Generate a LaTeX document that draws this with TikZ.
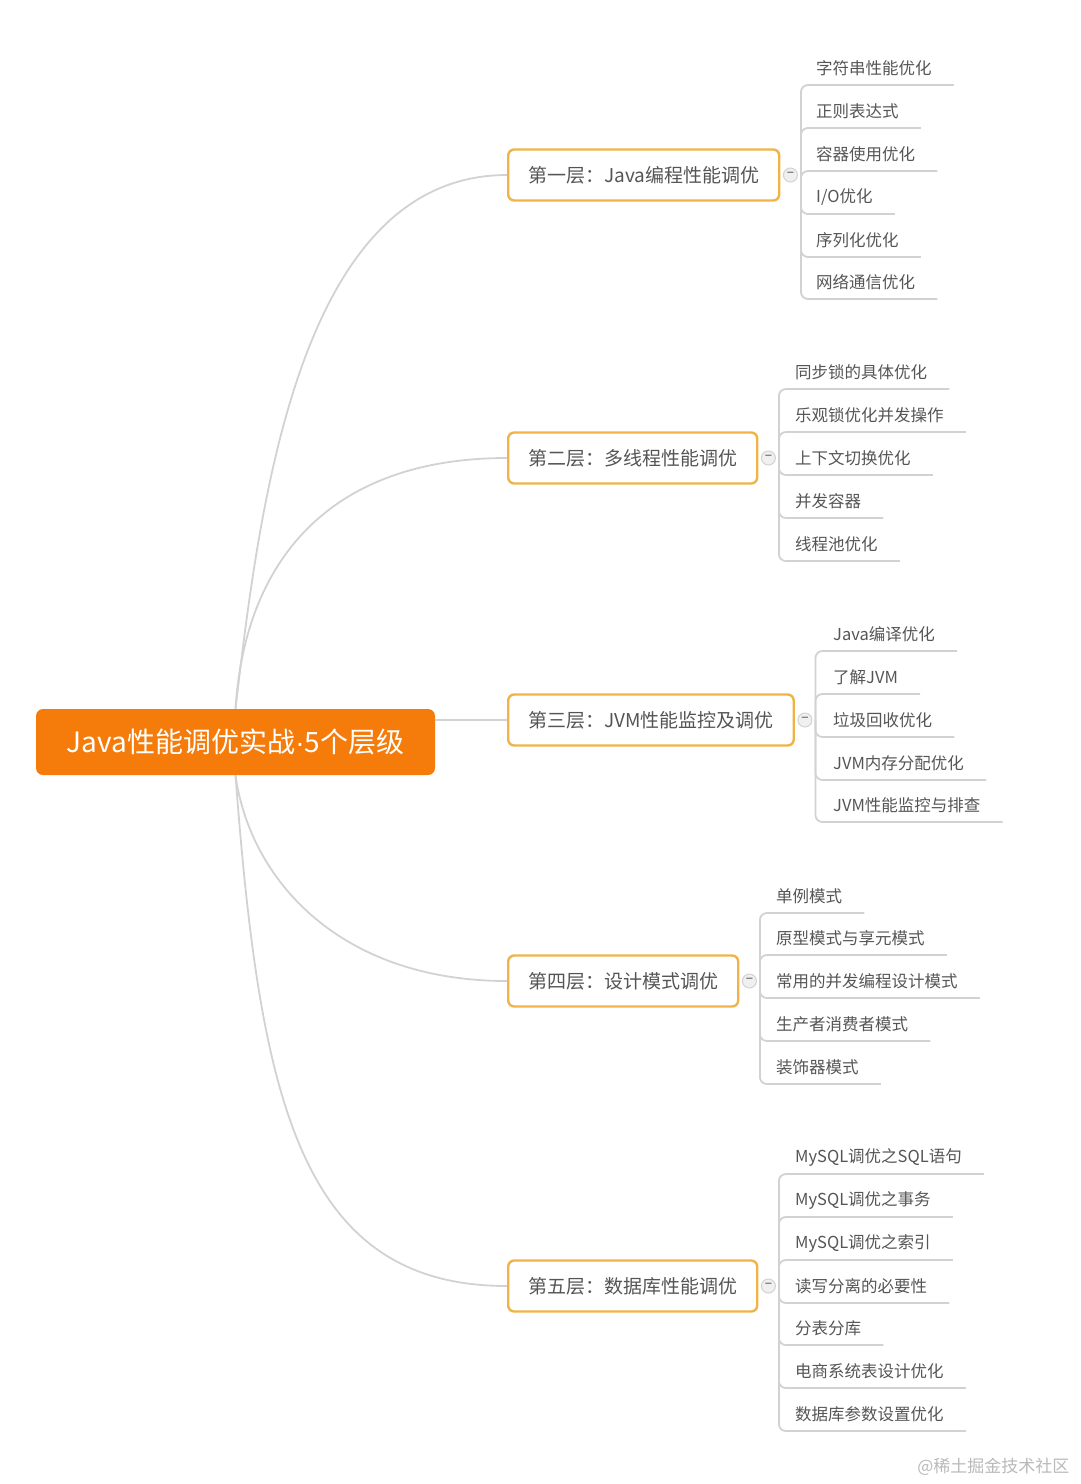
\documentclass[tikz,border=0pt]{standalone}
\usepackage{fontspec}
\setmainfont{Noto Sans CJK SC}
\newfontfamily\dotfont{Liberation Sans}
\usetikzlibrary{positioning}
\definecolor{rootcolor}{RGB}{245,124,10}
\definecolor{boxcolor}{RGB}{240,180,70}
\definecolor{linecolor}{RGB}{210,210,210}
\definecolor{textcolor}{RGB}{85,85,85}

\begin{document}
\begin{tikzpicture}[x=1pt, y=-1pt,
    root/.style={fill=rootcolor, text=white, rounded corners=7pt, minimum width=399pt, minimum height=66pt, font=\fontsize{28}{30}\selectfont},
    layer/.style={draw=boxcolor, fill=white, line width=2.4pt, rounded corners=6pt, text=textcolor, inner xsep=20pt, minimum height=51pt, anchor=west, font=\fontsize{19}{22}\selectfont},
    leaf/.style={text=textcolor, inner sep=0pt, anchor=west, font=\fontsize{16.5}{20}\selectfont},
    link/.style={linecolor, line width=1.8pt},
    branch/.style={linecolor, line width=1.8pt, rounded corners=7pt},
    fold/.style={circle, draw=linecolor, fill=gray!12, line width=1pt, minimum size=14pt, inner sep=0pt, font=\fontsize{13}{13}\selectfont, text=black!70}]
    \useasboundingbox (0,0) rectangle (1080,1484);

    \node[root] (root) at (235.5,742) {Java性能调优实战{\dotfont ·}5个层级};

    \node[layer] (l1) at (507,175) {第一层：Java编程性能调优};
    \node[layer] (l2) at (507,458) {第二层：多线程性能调优};
    \node[layer] (l3) at (507,720) {第三层：JVM性能监控及调优};
    \node[layer] (l4) at (507,981) {第四层：设计模式调优};
    \node[layer] (l5) at (507,1286) {第五层：数据库性能调优};

    % root to layers
    \draw[link] (root.north) .. controls (260,500) and (300,175) .. (l1.west);
    \draw[link] (root.north) .. controls (245,560) and (330,458) .. (l2.west);
    \draw[link] (l3.west -| root.east) -- (l3.west);
    \draw[link] (root.south) .. controls (250,880) and (340,981) .. (l4.west);
    \draw[link] (root.south) .. controls (260,1100) and (300,1286) .. (l5.west);

    % fold buttons and spines
    \node[fold, right=2.5pt of l1] (f1) {−};
    \node[fold, right=2.5pt of l2] (f2) {−};
    \node[fold, right=2.5pt of l3] (f3) {−};
    \node[fold, right=2.5pt of l4] (f4) {−};
    \node[fold, right=2.5pt of l5] (f5) {−};
    \coordinate (s1) at ([xshift=3pt]f1.east);
    \coordinate (s2) at ([xshift=3pt]f2.east);
    \coordinate (s3) at ([xshift=3pt]f3.east);
    \coordinate (s4) at ([xshift=3pt]f4.east);
    \coordinate (s5) at ([xshift=3pt]f5.east);

    % first layer
    \node[leaf] (a1) at (816,68) {字符串性能优化};
    \node[leaf] (a2) at (816,111) {正则表达式};
    \node[leaf] (a3) at (816,154) {容器使用优化};
    \node[leaf] (a4) at (816,197) {I/O优化};
    \node[leaf] (a5) at (816,240) {序列化优化};
    \node[leaf] (a6) at (816,282) {网络通信优化};
    \draw[branch] (s1) |- ([xshift=22pt,yshift=-17pt]a1.east);
    \draw[branch] (s1) |- ([xshift=22pt,yshift=-17pt]a2.east);
    \draw[branch] (s1) |- ([xshift=22pt,yshift=-17pt]a3.east);
    \draw[branch] (s1) |- ([xshift=22pt,yshift=-17pt]a4.east);
    \draw[branch] (s1) |- ([xshift=22pt,yshift=-17pt]a5.east);
    \draw[branch] (s1) |- ([xshift=22pt,yshift=-17pt]a6.east);

    % second layer
    \node[leaf] (b1) at (795,372) {同步锁的具体优化};
    \node[leaf] (b2) at (795,415) {乐观锁优化并发操作};
    \node[leaf] (b3) at (795,458) {上下文切换优化};
    \node[leaf] (b4) at (795,501) {并发容器};
    \node[leaf] (b5) at (795,544) {线程池优化};
    \draw[branch] (s2) |- ([xshift=22pt,yshift=-17pt]b1.east);
    \draw[branch] (s2) |- ([xshift=22pt,yshift=-17pt]b2.east);
    \draw[branch] (s2) |- ([xshift=22pt,yshift=-17pt]b3.east);
    \draw[branch] (s2) |- ([xshift=22pt,yshift=-17pt]b4.east);
    \draw[branch] (s2) |- ([xshift=22pt,yshift=-17pt]b5.east);

    % third layer
    \node[leaf] (c1) at (833,634) {Java编译优化};
    \node[leaf] (c2) at (833,677) {了解JVM};
    \node[leaf] (c3) at (833,720) {垃圾回收优化};
    \node[leaf] (c4) at (833,763) {JVM内存分配优化};
    \node[leaf] (c5) at (833,805) {JVM性能监控与排查};
    \draw[branch] (s3) |- ([xshift=22pt,yshift=-17pt]c1.east);
    \draw[branch] (s3) |- ([xshift=22pt,yshift=-17pt]c2.east);
    \draw[branch] (s3) |- ([xshift=22pt,yshift=-17pt]c3.east);
    \draw[branch] (s3) |- ([xshift=22pt,yshift=-17pt]c4.east);
    \draw[branch] (s3) |- ([xshift=22pt,yshift=-17pt]c5.east);

    % fourth layer
    \node[leaf] (d1) at (776,896) {单例模式};
    \node[leaf] (d2) at (776,938) {原型模式与享元模式};
    \node[leaf] (d3) at (776,981) {常用的并发编程设计模式};
    \node[leaf] (d4) at (776,1024) {生产者消费者模式};
    \node[leaf] (d5) at (776,1067) {装饰器模式};
    \draw[branch] (s4) |- ([xshift=22pt,yshift=-17pt]d1.east);
    \draw[branch] (s4) |- ([xshift=22pt,yshift=-17pt]d2.east);
    \draw[branch] (s4) |- ([xshift=22pt,yshift=-17pt]d3.east);
    \draw[branch] (s4) |- ([xshift=22pt,yshift=-17pt]d4.east);
    \draw[branch] (s4) |- ([xshift=22pt,yshift=-17pt]d5.east);

    % fifth layer
    \node[leaf] (e1) at (795,1157) {MySQL调优之SQL语句};
    \node[leaf] (e2) at (795,1200) {MySQL调优之事务};
    \node[leaf] (e3) at (795,1243) {MySQL调优之索引};
    \node[leaf] (e4) at (795,1286) {读写分离的必要性};
    \node[leaf] (e5) at (795,1328) {分表分库};
    \node[leaf] (e6) at (795,1371) {电商系统表设计优化};
    \node[leaf] (e7) at (795,1414) {数据库参数设置优化};
    \draw[branch] (s5) |- ([xshift=22pt,yshift=-17pt]e1.east);
    \draw[branch] (s5) |- ([xshift=22pt,yshift=-17pt]e2.east);
    \draw[branch] (s5) |- ([xshift=22pt,yshift=-17pt]e3.east);
    \draw[branch] (s5) |- ([xshift=22pt,yshift=-17pt]e4.east);
    \draw[branch] (s5) |- ([xshift=22pt,yshift=-17pt]e5.east);
    \draw[branch] (s5) |- ([xshift=22pt,yshift=-17pt]e6.east);
    \draw[branch] (s5) |- ([xshift=22pt,yshift=-17pt]e7.east);

    \node[text=gray!55, anchor=east, font=\fontsize{17}{20}\selectfont] (mark) at (1073,1467) {@稀土掘金技术社区};
\end{tikzpicture}
\end{document}
